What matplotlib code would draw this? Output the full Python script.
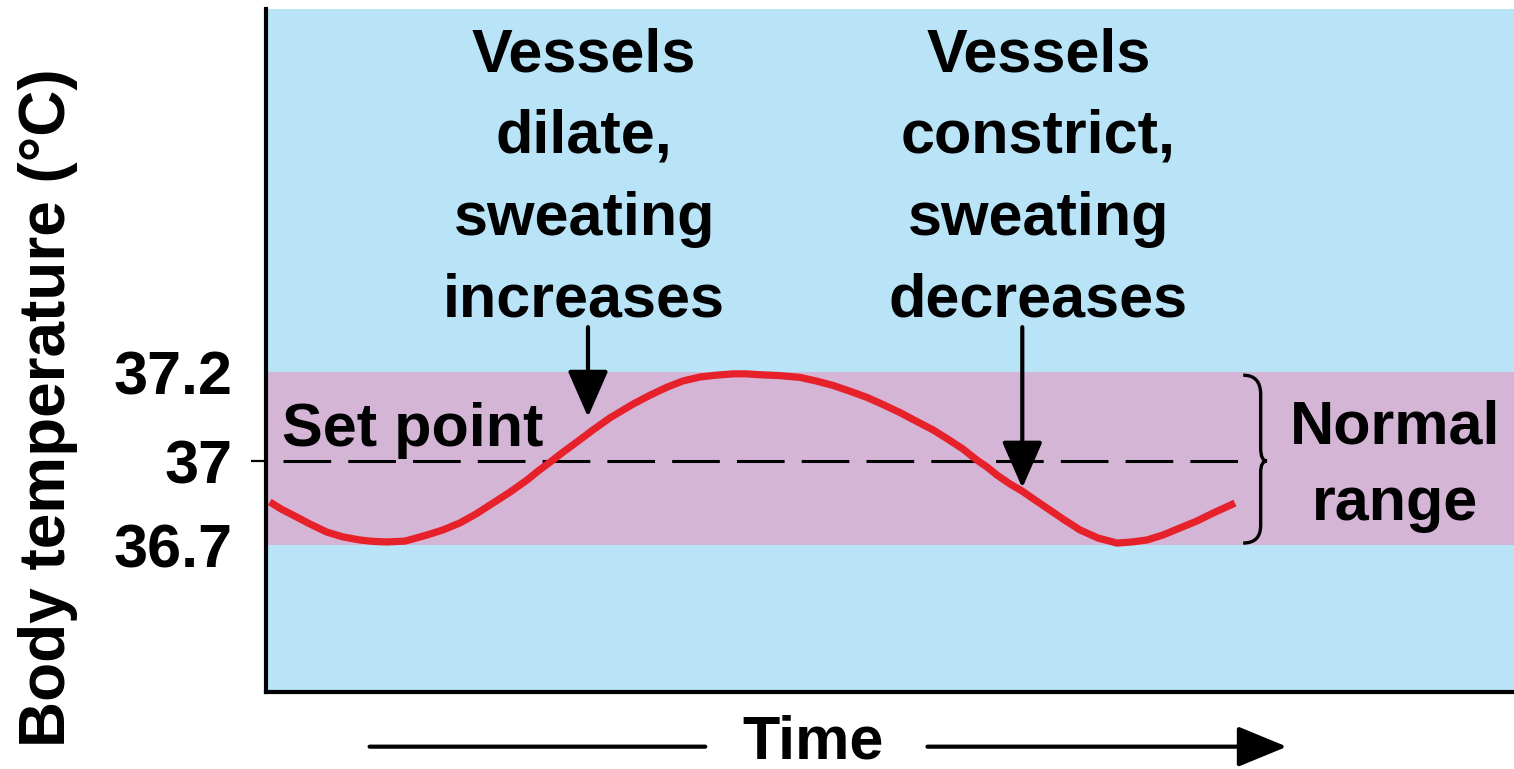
import numpy as np
import matplotlib
matplotlib.use('Agg')
from matplotlib import pyplot as plt
from matplotlib.path import Path
from matplotlib.patches import PathPatch

plt.rcParams['font.family'] = ['Liberation Sans', 'DejaVu Sans']
plt.rcParams['font.weight'] = 'bold'

# body temperature over time (arbitrary time units, degC)
time_pts = [0.3, 1.2, 2.16, 3.53, 4.89, 6.17, 7.53, 8.57, 9.7, 11.14, 12.9,
            14.18, 15.54, 16.83, 18.19, 19.55, 20.91, 21.79, 22.76, 23.8,
            24.92, 26.2, 27.56, 28.45, 29.41, 30.77, 32.13, 33.41, 34.78,
            36.06, 37.42, 38.46, 39.58, 41.19, 42.79, 44.07, 45.43, 46.79,
            48.16, 49.44, 50.8, 52.08, 53.45, 54.65, 55.85, 56.97, 57.77,
            58.57, 59.62, 60.58, 61.62, 62.58, 63.86, 65.22, 66.67, 68.19,
            69.39, 70.59, 71.88, 73.24, 74.6, 75.88, 76.76, 77.64]
temp_pts = [36.854, 36.829, 36.807, 36.775, 36.746, 36.729, 36.718, 36.713,
            36.711, 36.714, 36.736, 36.754, 36.779, 36.811, 36.850, 36.889,
            36.932, 36.964, 36.996, 37.020, 37.043, 37.070, 37.097, 37.112,
            37.128, 37.148, 37.166, 37.180, 37.189, 37.193, 37.196, 37.196,
            37.194, 37.192, 37.188, 37.180, 37.170, 37.157, 37.143, 37.127,
            37.109, 37.090, 37.070, 37.049, 37.027, 37.002, 36.979, 36.950,
            36.918, 36.893, 36.861, 36.832, 36.793, 36.754, 36.725, 36.707,
            36.711, 36.718, 36.736, 36.761, 36.786, 36.814, 36.832, 36.850]

set_point = 37.0
normal_low, normal_high = 36.7, 37.2
ytick_vals = [36.7, 37.0, 37.2]
ytick_labels = ['36.7', '37', '37.2']

# response arrows: (time, arrow top, arrow tip)
dilate_arrow = (25.8, 37.301, 37.099)
constrict_arrow = (60.6, 37.301, 36.904)
dilate_text = 'Vessels\ndilate,\nsweating\nincreases'
constrict_text = 'Vessels\nconstrict,\nsweating\ndecreases'

bg_blue = '#b9e4f8'
band_pink = '#d4b5d6'
curve_red = '#e6212a'

# the axis is drawn schematically: the three labelled temperatures are not evenly spaced
anchor_t = [35.0, 36.7, 37.0, 37.2, 39.0]
anchor_p = [-252.0, 224.0, 308.0, 397.0, 1198.0]


def fwd(v):
    return np.interp(v, anchor_t, anchor_p)


def inv(p):
    return np.interp(p, anchor_p, anchor_t)


fig = plt.figure(figsize=(15.14, 7.69), dpi=100)
ax = fig.add_axes([0.1757, 0.1001, 0.8243, 0.8882])
ax.set_yscale('function', functions=(fwd, inv))
ax.set_facecolor(bg_blue)

ax.axhspan(normal_low, normal_high, color=band_pink, lw=0, zorder=0)
ax.plot([1.4, 78.0], [set_point, set_point], color='black', lw=2.2,
        linestyle=(0, (15.6, 5.6)), zorder=2)
ax.plot(time_pts, temp_pts, color=curve_red, lw=5.2, solid_capstyle='butt',
        solid_joinstyle='round', zorder=3)

ax.text(1.3, 37.034, 'Set point', fontsize=44, ha='left', va='baseline', zorder=4)

for tx, ytop, ytip in [dilate_arrow, constrict_arrow]:
    ax.annotate('', xy=(tx, ytip), xytext=(tx, ytop),
                arrowprops=dict(arrowstyle='-|>,head_length=1.6,head_width=0.7',
                                mutation_scale=18, lw=3, color='black',
                                shrinkA=0, shrinkB=0), zorder=5)

ax.text(25.5, 37.975, dilate_text, fontsize=44, ha='center', va='top',
        linespacing=1.56, zorder=4)
ax.text(61.9, 37.975, constrict_text, fontsize=44, ha='center', va='top',
        linespacing=1.56, zorder=4)

# curly brace marking the normal range
bx0, bx1, bx2 = 78.3, 79.7, 80.2
verts = [(bx0, 37.193), (bx1, 37.193), (bx1, 37.15),
         (bx1, 37.03),
         (bx1, 37.0), (bx2, 37.0),
         (bx1, 37.0), (bx1, 36.96),
         (bx1, 36.77),
         (bx1, 36.707), (bx0, 36.707)]
codes = [Path.MOVETO, Path.CURVE3, Path.CURVE3,
         Path.LINETO,
         Path.CURVE3, Path.CURVE3,
         Path.CURVE3, Path.CURVE3,
         Path.LINETO,
         Path.CURVE3, Path.CURVE3]
ax.add_patch(PathPatch(Path(verts, codes), fill=False, lw=2.4, color='black', zorder=4))
# multi-line baseline anchors the last line ("range")
ax.text(90.5, 36.789, 'Normal\nrange', fontsize=44, ha='center', va='baseline',
        linespacing=1.45, zorder=4)

ax.set_xlim(0, 100)
ax.set_ylim(36.175, 38.016)
ax.set_xticks([])
ax.set_yticks(ytick_vals)
ax.set_yticklabels(ytick_labels, fontsize=44, fontweight='bold')
ax.tick_params(axis='y', direction='out', length=11, width=1.6, pad=13)
for tk, v in zip(ax.yaxis.get_major_ticks(), ytick_vals):
    if v != set_point:
        tk.tick1line.set_visible(False)

for side in ['top', 'right']:
    ax.spines[side].set_visible(False)
for side in ['left', 'bottom']:
    ax.spines[side].set_linewidth(3)

ax.set_ylabel('Body temperature (°C)', fontsize=46, fontweight='bold')
ax.yaxis.set_label_coords(-0.175, 0.417)
ax.yaxis.label.set_va('center')

ax.set_xlabel('Time', fontsize=44, fontweight='bold')
ax.xaxis.set_label_coords(0.438, -0.074)
ax.xaxis.label.set_va('center')

# time arrow under the axis
ax.annotate('', xy=(35.2, -0.08), xytext=(8.3, -0.08),
            xycoords=('data', 'axes fraction'), textcoords=('data', 'axes fraction'),
            arrowprops=dict(arrowstyle='-', lw=3, color='black', shrinkA=0, shrinkB=0),
            annotation_clip=False)
ax.annotate('', xy=(81.8, -0.08), xytext=(53.0, -0.08),
            xycoords=('data', 'axes fraction'), textcoords=('data', 'axes fraction'),
            arrowprops=dict(arrowstyle='-|>,head_length=1.7,head_width=0.7',
                            mutation_scale=18, lw=3, color='black',
                            shrinkA=0, shrinkB=0),
            annotation_clip=False)

fig.savefig('out.png', dpi=100)
